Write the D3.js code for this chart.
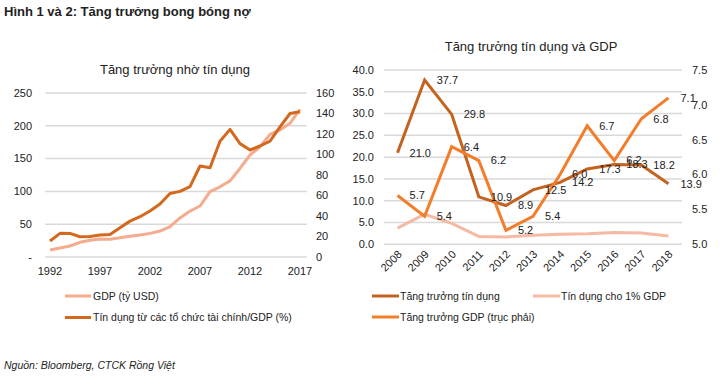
<!DOCTYPE html>
<html>
<head>
<meta charset="utf-8">
<script src="https://cdn.jsdelivr.net/npm/d3@7"></script>
<style>
  body { margin: 0; background: #fff; }
  svg { display: block; font-family: "Liberation Sans", Arial, sans-serif; }
  .grid line { stroke: #d9d9d9; stroke-width: 1.5; }
  .tick-label { font-size: 11px; fill: #222; }
</style>
</head>
<body>
<div id="chart"></div>
<script>
// chart 1 - growth driven by credit
const years1 = d3.range(1992, 2018);
const gdpUsd = [10.7, 13.7, 16.8, 22.4, 25.4, 27.4, 27.2, 29.5, 31.5, 33.5, 36, 39.6, 46.2, 59.5,
  70, 77.7, 99.6, 107, 116, 135, 155.5, 168, 187, 193.6, 203.8, 225];
const creditGdp = [15.6, 23.1, 23, 19.8, 20, 21.5, 22, 28.6, 35, 39.3, 44.9, 51.7, 62, 64,
  68.6, 88.8, 87, 113, 124.5, 110.6, 104.4, 108.3, 113, 127, 140, 141.8];
const leftTicks1 = [0, 50, 100, 150, 200, 250];
const rightTicks1 = [0, 20, 40, 60, 80, 100, 120, 140, 160];
const xLabels1 = [1992, 1997, 2002, 2007, 2012, 2017];

// chart 2 - credit growth and GDP
const years2 = d3.range(2008, 2019);
const creditGrowth = [21.0, 37.7, 29.8, 10.9, 8.9, 12.5, 14.2, 17.3, 18.3, 18.2, 13.9];
const creditPerGdp = [3.7, 6.9, 4.8, 1.8, 1.7, 2.1, 2.3, 2.4, 2.7, 2.6, 1.9];
const gdpGrowth = [5.7, 5.4, 6.4, 6.2, 5.2, 5.4, 6.0, 6.7, 6.2, 6.8, 7.1];
const leftTicks2 = [0, 5, 10, 15, 20, 25, 30, 35, 40];
const rightTicks2 = [5.0, 5.5, 6.0, 6.5, 7.0, 7.5];

const colLight = "#f5ab8d";
const colDark = "#d2691f";
const colCredit = "#c4621f";
const colGdp = "#f27e2b";
const colCpg = "#f6b9a3";

const svg = d3.select("#chart").append("svg")
  .attr("width", 720)
  .attr("height", 378);

svg.append("text")
  .attr("x", 4).attr("y", 16)
  .style("font-size", "13px").style("font-weight", "bold").style("fill", "#222")
  .text("Hình 1 và 2: Tăng trưởng bong bóng nợ");

// ---------- left chart ----------
const x1 = d3.scaleBand().domain(years1).range([45, 305]);
const yL1 = d3.scaleLinear().domain([0, 250]).range([257, 93]);
const yR1 = d3.scaleLinear().domain([0, 160]).range([257, 93]);
const c1 = d => x1(d) + x1.bandwidth() / 2;

const g1 = svg.append("g");

g1.append("text")
  .attr("x", 175).attr("y", 74)
  .attr("text-anchor", "middle")
  .style("font-size", "13px").style("fill", "#222")
  .text("Tăng trưởng nhờ tín dụng");

g1.append("g").attr("class", "grid")
  .selectAll("line").data(leftTicks1).enter().append("line")
  .attr("x1", 45).attr("x2", 307)
  .attr("y1", d => yL1(d)).attr("y2", d => yL1(d));

g1.append("g").selectAll("text").data(leftTicks1).enter().append("text")
  .attr("class", "tick-label")
  .attr("x", 32).attr("y", d => yL1(d)).attr("dy", "0.35em")
  .attr("text-anchor", "end")
  .text(d => d === 0 ? "-" : d);

g1.append("g").selectAll("text").data(rightTicks1).enter().append("text")
  .attr("class", "tick-label")
  .attr("x", 316).attr("y", d => yR1(d)).attr("dy", "0.35em")
  .text(d => d);

g1.append("g").selectAll("text").data(xLabels1).enter().append("text")
  .attr("class", "tick-label")
  .attr("x", d => c1(d)).attr("y", 275)
  .attr("text-anchor", "middle")
  .text(d => d);

const line1a = d3.line().x((d, i) => c1(years1[i])).y(d => yL1(d));
const line1b = d3.line().x((d, i) => c1(years1[i])).y(d => yR1(d));

g1.append("path").datum(gdpUsd)
  .attr("d", line1a).attr("fill", "none")
  .attr("stroke", colLight).attr("stroke-width", 3).attr("stroke-linejoin", "round");
g1.append("path").datum(creditGdp)
  .attr("d", line1b).attr("fill", "none")
  .attr("stroke", colDark).attr("stroke-width", 3).attr("stroke-linejoin", "round");

const legend1 = [
  { name: "GDP (tỷ USD)", color: colLight },
  { name: "Tín dụng từ các tổ chức tài chính/GDP (%)", color: colDark }
];
const lg1 = g1.selectAll(".lg1").data(legend1).enter().append("g")
  .attr("transform", (d, i) => `translate(65,${296 + i * 21.5})`);
lg1.append("line").attr("x1", 0).attr("x2", 26)
  .attr("stroke", d => d.color).attr("stroke-width", 3);
lg1.append("text").attr("x", 28).attr("dy", "0.35em")
  .style("font-size", "10.5px").style("fill", "#222")
  .text(d => d.name);

// ---------- right chart ----------
const x2 = d3.scaleBand().domain(years2).range([384, 682]);
const yL2 = d3.scaleLinear().domain([0, 40]).range([244.3, 70]);
const yR2 = d3.scaleLinear().domain([5, 7.5]).range([244.3, 70]);
const c2 = d => x2(d) + x2.bandwidth() / 2;

const g2 = svg.append("g");

g2.append("text")
  .attr("x", 531).attr("y", 51)
  .attr("text-anchor", "middle")
  .style("font-size", "13px").style("fill", "#222")
  .text("Tăng trưởng tín dụng và GDP");

g2.append("g").attr("class", "grid")
  .selectAll("line").data(leftTicks2).enter().append("line")
  .attr("x1", 384).attr("x2", 682)
  .attr("y1", d => yL2(d)).attr("y2", d => yL2(d));

g2.append("g").selectAll("text").data(leftTicks2).enter().append("text")
  .attr("class", "tick-label")
  .attr("x", 374).attr("y", d => yL2(d)).attr("dy", "0.35em")
  .attr("text-anchor", "end")
  .text(d => d.toFixed(1));

g2.append("g").selectAll("text").data(rightTicks2).enter().append("text")
  .attr("class", "tick-label")
  .attr("x", 692).attr("y", d => yR2(d)).attr("dy", "0.35em")
  .text(d => d.toFixed(1));

g2.append("g").selectAll("text").data(years2).enter().append("text")
  .attr("class", "tick-label")
  .attr("text-anchor", "end")
  .attr("transform", d => `translate(${c2(d) + 5},255) rotate(-45)`)
  .text(d => d);

const series2 = [
  { values: creditPerGdp, y: yL2, color: colCpg, labels: false },
  { values: creditGrowth, y: yL2, color: colCredit, labels: true },
  { values: gdpGrowth, y: yR2, color: colGdp, labels: true }
];

series2.forEach(s => {
  const ln = d3.line().x((d, i) => c2(years2[i])).y(d => s.y(d));
  g2.append("path").datum(s.values)
    .attr("d", ln).attr("fill", "none")
    .attr("stroke", s.color).attr("stroke-width", 3).attr("stroke-linejoin", "miter");
});

// data labels sit just right of each point, like the original (some overlap there too)
series2.filter(s => s.labels).forEach(s => {
  g2.append("g").selectAll("text").data(s.values).enter().append("text")
    .attr("x", (d, i) => c2(years2[i]) + 12)
    .attr("y", d => s.y(d)).attr("dy", "0.35em")
    .style("font-size", "11px").style("fill", "#222")
    .text(d => d.toFixed(1));
});

const legend2 = [
  { name: "Tăng trưởng tín dụng", color: colCredit, x: 372, y: 296 },
  { name: "Tín dụng cho 1% GDP", color: colCpg, x: 533, y: 296 },
  { name: "Tăng trưởng GDP (trục phải)", color: colGdp, x: 372, y: 317 }
];
const lg2 = g2.selectAll(".lg2").data(legend2).enter().append("g")
  .attr("transform", d => `translate(${d.x},${d.y})`);
lg2.append("line").attr("x1", 0).attr("x2", 27)
  .attr("stroke", d => d.color).attr("stroke-width", 3);
lg2.append("text").attr("x", 28).attr("dy", "0.35em")
  .style("font-size", "10.5px").style("fill", "#222")
  .text(d => d.name);

svg.append("text")
  .attr("x", 4).attr("y", 369)
  .style("font-size", "10.5px").style("font-style", "italic").style("fill", "#222")
  .text("Nguồn: Bloomberg, CTCK Rồng Việt");
</script>
</body>
</html>
